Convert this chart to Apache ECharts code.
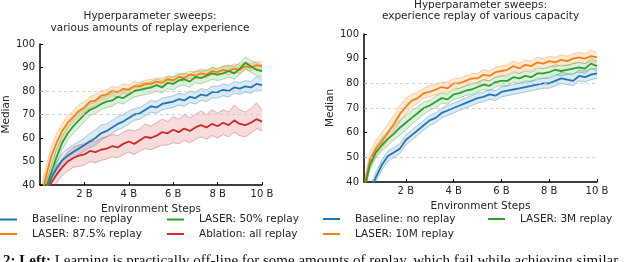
<!DOCTYPE html>
<html><head><meta charset="utf-8">
<script src="https://cdn.jsdelivr.net/npm/echarts@6/dist/echarts.min.js"></script>
<style>html,body{margin:0;padding:0;background:#fff}#c{width:640px;height:262px}</style>
</head><body><div id="c"></div>
<script>
// ---------- data (x in billions of environment steps) ----------
const steps = [0.1,0.25,0.5,0.75,1,1.25,1.5,1.75,2,2.25,2.5,2.75,3,3.25,3.5,3.75,4,4.25,4.5,4.75,5,5.25,5.5,5.75,6,6.25,6.5,6.75,7,7.25,7.5,7.75,8,8.25,8.5,8.75,9,9.25,9.5,9.75,10];
const xTickValues = [2,4,6,8,10];
const xTickLabels = ['2 B','4 B','6 B','8 B','10 B'];
const leftGridLines = [70,80];
const rightGridLines = [50,70,80];

// Left panel
const leftBaseline = [30,37,43,47,50.5,52.5,54,55.5,57,58.5,60,62,63,64.5,66,67,68.5,70,70.5,72,73.5,73,74.5,75,75.5,76.5,76,77.5,77,78.5,78,79.5,79.5,80.5,80,81.5,81,82,81.5,83,82.5];
const leftBaselineHi = [33,40,46,50,53.5,55.5,57,58.5,60,62,63.5,65.5,66,67.5,69,70,71.5,72.5,73,74.5,76,75.5,77,77.5,78,79,78.5,80,79.5,81,80.5,82,82,83,82.5,84,83.5,84.5,84,86,85];
const leftBaselineLo = [27,34,40,44,48,50,51.5,53,54.5,56,57,59,60.5,62,63.5,64.5,66,67.5,68,69.5,71,70.5,72,72.5,73,74,73.5,75,74.5,76,75.5,77,77,78,77.5,79,78.5,79.5,79,80.5,80];
const laser875 = [36,43,52,58,63,66.5,69,71.5,73,75.5,76,78,78.5,80,79.5,81,80.5,82,82,83,83,84,83.5,85,84.5,86,85.5,87,86.5,87.5,87,88.5,88,89,88.5,89.5,89,90.5,90,91,90.5];
const laser875Hi = [40,47,56,62,66,69.5,71.5,74,75.5,77.5,78.5,80,80.5,82,81.5,83,82.5,84,83.5,84.5,85,85.5,85.5,86.5,86,87.5,87.5,88.5,88,89.5,88.5,90,89.5,90.5,90.5,91.5,91,92.5,91.5,92.5,92.5];
const laser875Lo = [33,40,48,55,60,64,66.5,69,71,73,74,76,76.5,78,77.5,79,78.5,80,80.5,81.5,81,82.5,82,83.5,83,84.5,84,85.5,85,86,85.5,87,86.5,87.5,87,88,87.5,89,88.5,89.5,89];
const laser50 = [32,38,45,52,58,62,65,67.5,70,72,73,74.5,75.5,76,77.5,77,78.5,80,80.5,81,81.5,82.5,81.5,83.5,83,84.5,85,84,86,85.5,86.5,87.5,87,87.5,88.5,87.5,89.5,92,90.5,89,88.5];
const laser50Hi = [35,41,48,55.5,61,65,68,70.5,72.5,74.5,75.5,77,78,79,80,80,81,82.5,83,83.5,84,85,84.5,86,86,87,87.5,87,88.5,88.5,89,90,89.5,90.5,91,90.5,92,94.5,93,92,91];
const laser50Lo = [29,35,42,49,55,59,62,64.5,67,69.5,70.5,72,73,73.5,75,74.5,76,77.5,78,78.5,79,80,79,81,80.5,82,82.5,81.5,83.5,83,84,85,84.5,85,86,85,87,89.5,88,86.5,86];
const ablation = [30,36,41,44.5,47.5,50,51.5,52.5,53,54.5,54,55,55.5,56.5,56,57.5,58.5,57.5,59,60.5,60,61,62.5,62,63.5,62.5,64,63,64.5,65.5,64.5,66,65,66.5,65.5,67.5,66,65.5,66.5,68,67];
const ablationHi = [33,39,44,48,51,54,56,57,57.5,59,58.5,60,60.5,61.5,61,62.5,63.5,63,64,66,65,66.5,68,67,69,68,70,68.5,70,71.5,70,72,70.5,72,71,74,72,71,72.5,75,72];
const ablationLo = [27,33,38,41,44,46,47.5,48,48.5,50,49.5,50.5,51,52,51.5,53,54,53,54.5,55.5,55,56,57,57,58,57.5,59,58,59.5,60.5,59.5,61,60,61.5,60.5,62.5,61,60.5,62,64,63];

// Right panel
const rightBaseline = [22,28,36,42,47,50.5,52,53.5,57,59,61,63,65,66,68,69,70,71,72,73,74,74.5,75.5,75,76.5,77,77.5,78,78.5,79,79.5,80,80,81,82,81.5,81,83,82.5,83.5,84];
const rightBaselineHi = [24,30,38,44,49,52.5,54,55.5,59,61,63,65,67,68,70,71,72,73,74,75,76,76.5,77.5,77,78.5,79,79.5,80,80.5,81,81.5,82,82,83,84.5,84,83.5,85.5,85,86,86];
const rightBaselineLo = [20,26,34,40,45,48.5,50,51.5,55,57,59,61,63,64,66,67,68,69,70,71,72,72.5,73.5,73,74.5,75,75.5,76,76.5,77,77.5,78,78,79,80,79.5,79,81,80.5,81.5,82];
const laser10M = [30,37,49,53.5,56.5,60,63.5,67.5,70.5,73,74,76,76.5,77.5,78.5,78,80,80,81,82,82,83.5,83,84.5,85,85.5,87,86,87.5,87,88.5,88,89,88.5,89.5,89,90,90.5,90,91,90.5];
const laser10MHi = [33,40,52,57,60,63.5,67,71,74,75.5,76.5,78,79,79.5,80.5,80.5,82,82,83,84,84,85.5,85,86.5,87,87.5,89,88,89.5,89,90.5,90,91,90.5,91.5,91,92,92.5,92,93.5,92.5];
const laser10MLo = [27,34,46,50.5,53.5,57,60.5,64.5,67.5,70.5,72,74,74.5,75.5,76.5,76,78,78,79,80,80,81.5,81,82.5,83,83.5,85,84,85.5,85,86.5,86,87,86.5,87.5,87,88,88.5,88,89,88.5];
const laser3M = [28,37,47,52,55,57.5,59.5,62,64,66,68,70,71,72.5,74,73.5,75.5,76,77,77.5,78.5,79.5,79,80.5,81,81,82.5,82,83,82.5,84,84,84.5,85.5,85,85.5,86,86.5,86,88,87];
const laser3MHi = [30,39,49.5,54.5,58,60.5,62.5,65,67,69,70.5,72.5,73,75,76,75.5,77.5,78,79,79.5,80.5,81.5,81,82.5,83,83,84.5,84,85,84.5,86,86,86.5,87.5,87,87.5,88,88.5,88,90,89];
const laser3MLo = [26,35,45,50,52.5,55,57,59,61,63.5,65.5,67.5,69,70,72,71.5,73.5,74,75,75.5,76.5,77.5,77,78.5,79,79,80.5,80,81,80.5,82,82,82.5,83.5,83,83.5,84,84.5,84,86,85];

const titles = [
  ['Hyperparameter sweeps:', 'various amounts of replay experience'],
  ['Hyperparameter sweeps:', 'experience replay of various capacity']
];
const caption = '{b|2: Left:} Learning is practically off-line for some amounts of replay, which fail while achieving similar';

// ---------- styles ----------
const FONT = 'DejaVu Sans';
const TXT = '#262626';
const COL = {blue:'#1f77b4', orange:'#ff7f0e', green:'#2ca02c', red:'#d62728'};

function pair(ys){ return steps.map((x,i)=>[x, ys[i]]); }

const series = [];
function addCurve(g, name, color, mid, lo, hi){
  // shaded band between lo and hi, drawn through the axes' own scales
  series.push({type:'custom', xAxisIndex:g, yAxisIndex:g, clip:true, silent:true, z:1,
    data:[[steps[0], lo[0]]],
    renderItem:function(params, api){
      const pts = [];
      for (let i = 0; i < steps.length; i++) pts.push(api.coord([steps[i], hi[i]]));
      for (let i = steps.length - 1; i >= 0; i--) pts.push(api.coord([steps[i], lo[i]]));
      return {type:'polygon', shape:{points:pts}, style:{fill:color, opacity:0.16}};
    }});
  [lo, hi].forEach(arr => series.push({type:'line', xAxisIndex:g, yAxisIndex:g, data:pair(arr), symbol:'none',
    lineStyle:{color:color, width:0.7, opacity:0.5}, silent:true, z:2}));
  series.push({type:'line', name:name, xAxisIndex:g, yAxisIndex:g, data:pair(mid), symbol:'none',
    color:color, lineStyle:{color:color, width:1.8}, z:3});
}
function gridLineSeries(g, vals){
  series.push({type:'line', xAxisIndex:g, yAxisIndex:g, data:[], silent:true, z:0,
    markLine:{silent:true, symbol:'none', label:{show:false}, animation:false,
      lineStyle:{type:[3,3], color:'#c8c8c8', width:0.8},
      data: vals.map(v=>({yAxis:v}))}});
}

gridLineSeries(0, leftGridLines);
gridLineSeries(1, rightGridLines);
addCurve(0, 'Baseline: no replay', COL.blue, leftBaseline, leftBaselineLo, leftBaselineHi);
addCurve(0, 'LASER: 87.5% replay', COL.orange, laser875, laser875Lo, laser875Hi);
addCurve(0, 'LASER: 50% replay', COL.green, laser50, laser50Lo, laser50Hi);
addCurve(0, 'Ablation: all replay', COL.red, ablation, ablationLo, ablationHi);
addCurve(1, 'Baseline: no replay', COL.blue, rightBaseline, rightBaselineLo, rightBaselineHi);
addCurve(1, 'LASER: 10M replay', COL.orange, laser10M, laser10MLo, laser10MHi);
addCurve(1, 'LASER: 3M replay', COL.green, laser3M, laser3MLo, laser3MHi);

function xAxis(g, min){
  return {type:'value', gridIndex:g, min:min, max:10,
    name:'Environment Steps', nameLocation:'middle', nameGap:11,
    nameTextStyle:{fontFamily:FONT, fontSize:10.5, color:TXT},
    axisLine:{onZero:false, lineStyle:{color:'#000', width:1.5}},
    axisTick:{inside:true, length:3, customValues:xTickValues, lineStyle:{color:'#000', width:1}},
    axisLabel:{customValues:xTickValues, margin:4, fontFamily:FONT, fontSize:10, color:TXT,
      formatter:v=>xTickLabels[xTickValues.indexOf(v)]},
    splitLine:{show:false}};
}
function yAxis(g){
  return {type:'value', gridIndex:g, min:40, max:100, interval:10,
    name:'Median', nameLocation:'middle', nameGap:26,
    nameTextStyle:{fontFamily:FONT, fontSize:10.5, color:TXT},
    axisLine:{show:true, onZero:false, lineStyle:{color:'#000', width:1.5}},
    axisTick:{show:true, inside:true, length:3, lineStyle:{color:'#000', width:1}},
    axisLabel:{margin:5, fontFamily:FONT, fontSize:10, color:TXT},
    splitLine:{show:false}};
}

const legendBase = {orient:'horizontal', padding:0, itemWidth:17, itemHeight:2, icon:'rect', selectedMode:false,
  textStyle:{fontFamily:FONT, fontSize:10.5, color:TXT, padding:[0,0,0,10]}};
function lg(name, left, top){ return Object.assign({}, legendBase, {data:[name], left:left, top:top}); }

const graphic = [];
[[150,16.7,28.5],[480.5,5,16.5]].forEach((p,i)=>{
  graphic.push({type:'text', x:p[0], y:p[1], silent:true, style:{text:titles[i][0], textAlign:'center', textVerticalAlign:'middle', font:'10.5px "DejaVu Sans"', fill:TXT}});
  graphic.push({type:'text', x:p[0], y:p[2], silent:true, style:{text:titles[i][1], textAlign:'center', textVerticalAlign:'middle', font:'10.5px "DejaVu Sans"', fill:TXT}});
});
graphic.push({type:'text', x:3, y:254, silent:true, style:{text:caption, textVerticalAlign:'top',
  font:'15px "Liberation Serif"', fill:'#111', rich:{b:{font:'bold 15px "Liberation Serif"'}}}});

const chart = echarts.init(document.getElementById('c'));
chart.setOption({
  animation:false,
  backgroundColor:'#fff',
  grid:[{left:40, top:44, width:222, height:141}, {left:364, top:34, width:233, height:148}],
  xAxis:[xAxis(0, 0), xAxis(1, 0.25)],
  yAxis:[yAxis(0), yAxis(1)],
  legend:[
    lg('Baseline: no replay', 0, 214), lg('LASER: 87.5% replay', 0, 228.5),
    lg('LASER: 50% replay', 167, 214), lg('Ablation: all replay', 167, 228.5),
    lg('Baseline: no replay', 323, 213.5), lg('LASER: 10M replay', 323, 228.5),
    lg('LASER: 3M replay', 488, 213.5)
  ],
  graphic:graphic,
  series:series
});
</script></body></html>
